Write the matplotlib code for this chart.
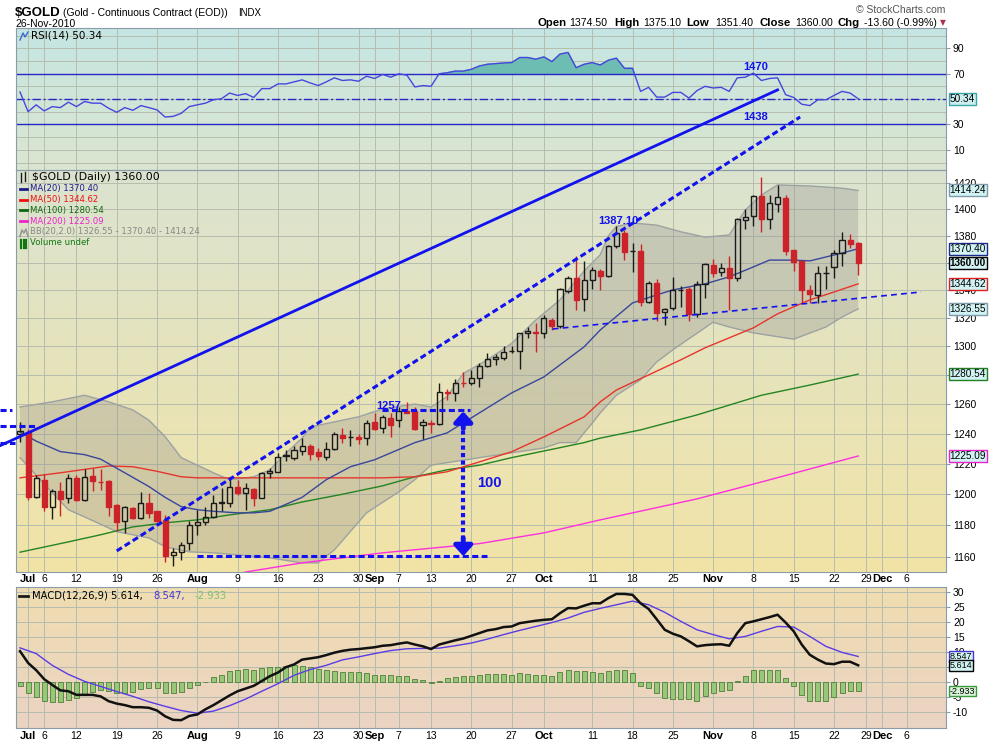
import numpy as np
import matplotlib.pyplot as plt
import matplotlib.colors as mcolors
from matplotlib.patches import Rectangle, Polygon
from matplotlib.lines import Line2D
from matplotlib.ticker import FixedLocator, NullLocator

plt.rcParams['font.family'] = ['Liberation Sans', 'DejaVu Sans']

# ---------------------------------------------------------------- data
# trading-day index: 0 = 30-Jun-2010 ... 104 = 26-Nov-2010
opens = [1239.7, 1241.4, 1198.2, 1209.4, 1192.0, 1202.3, 1197.5, 1210.8, 1196.4, 1211.6,
         1208.3, 1208.8, 1193.2, 1183.0, 1191.0, 1184.6, 1194.2, 1188.9, 1183.5, 1161.1,
         1163.0, 1168.5, 1180.0, 1182.3, 1185.3, 1194.3, 1194.4, 1204.7, 1200.8, 1203.3,
         1197.9, 1213.6, 1214.5, 1225.3, 1223.6, 1228.7, 1231.4, 1227.6, 1224.7, 1229.7,
         1239.1, 1237.7, 1238.0, 1236.9, 1247.5, 1244.0, 1250.4, 1248.9, 1255.5, 1255.5,
         1245.5, 1246.9, 1246.5, 1268.1, 1267.8, 1274.6, 1274.1, 1277.8, 1286.5, 1290.9,
         1291.7, 1296.6, 1296.5, 1309.2, 1309.8, 1309.5, 1318.6, 1314.4, 1339.7, 1348.7,
         1333.7, 1347.5, 1354.3, 1350.4, 1372.3, 1382.1, 1368.7, 1368.8, 1331.8, 1345.5,
         1324.4, 1327.3, 1340.1, 1340.6, 1323.2, 1344.2, 1358.6, 1353.2, 1356.3, 1348.7,
         1392.0, 1394.8, 1409.7, 1392.9, 1403.9, 1408.3, 1369.3, 1361.0, 1340.4, 1336.2,
         1352.5, 1357.2, 1367.0, 1376.9, 1374.5]
highs = [1247.8, 1243.0, 1212.4, 1213.3, 1203.3, 1207.7, 1213.0, 1212.4, 1216.6, 1217.0,
         1216.6, 1209.5, 1193.5, 1192.6, 1191.7, 1201.5, 1201.0, 1189.5, 1186.8, 1165.6,
         1169.6, 1183.0, 1190.0, 1191.7, 1199.7, 1204.0, 1210.2, 1209.4, 1207.5, 1204.0,
         1214.3, 1217.0, 1227.3, 1229.0, 1231.4, 1236.8, 1233.0, 1230.3, 1234.7, 1241.4,
         1243.6, 1242.5, 1240.0, 1249.3, 1253.8, 1252.6, 1253.8, 1257.8, 1261.7, 1258.3,
         1250.0, 1249.3, 1274.5, 1270.2, 1277.0, 1282.0, 1283.5, 1288.2, 1295.5, 1294.7,
         1299.9, 1299.9, 1309.5, 1313.6, 1316.5, 1322.0, 1320.0, 1341.4, 1350.4, 1365.0,
         1361.6, 1357.2, 1355.5, 1373.0, 1387.1, 1384.4, 1374.4, 1373.9, 1346.5, 1348.5,
         1327.3, 1349.5, 1343.1, 1342.4, 1346.6, 1360.0, 1362.6, 1360.0, 1365.0, 1393.5,
         1399.9, 1410.8, 1424.4, 1410.8, 1418.5, 1410.8, 1369.5, 1361.4, 1343.8, 1357.5,
         1357.5, 1369.3, 1383.2, 1381.4, 1375.1]
lows = [1234.5, 1196.0, 1197.5, 1189.0, 1184.2, 1186.1, 1194.5, 1195.7, 1195.7, 1202.2,
        1202.9, 1185.7, 1176.1, 1175.1, 1183.9, 1183.9, 1185.0, 1182.3, 1156.6, 1154.5,
        1157.8, 1164.5, 1174.0, 1180.0, 1184.6, 1189.0, 1192.0, 1199.3, 1190.0, 1192.2,
        1197.5, 1210.5, 1214.3, 1222.0, 1222.5, 1225.8, 1222.5, 1222.5, 1222.5, 1229.2,
        1233.6, 1231.4, 1233.0, 1232.5, 1242.5, 1240.3, 1237.6, 1244.7, 1253.8, 1242.5,
        1236.2, 1240.7, 1246.0, 1262.8, 1262.0, 1272.0, 1273.0, 1271.6, 1285.7, 1287.1,
        1290.4, 1295.5, 1283.9, 1306.0, 1296.3, 1306.0, 1311.8, 1312.9, 1337.9, 1325.8,
        1325.3, 1340.7, 1340.2, 1349.5, 1371.0, 1362.1, 1352.9, 1328.6, 1331.0, 1317.8,
        1314.8, 1325.5, 1328.2, 1317.8, 1320.7, 1334.6, 1349.4, 1350.0, 1325.8, 1347.0,
        1385.0, 1387.0, 1383.0, 1384.8, 1398.0, 1366.0, 1354.3, 1331.0, 1331.0, 1331.0,
        1341.0, 1349.0, 1357.9, 1370.8, 1351.4]
closes = [1242.0, 1198.2, 1210.8, 1192.0, 1201.8, 1197.0, 1210.8, 1196.4, 1211.2, 1208.6,
          1208.0, 1192.0, 1182.0, 1191.7, 1184.6, 1194.2, 1188.2, 1182.9, 1160.3, 1163.0,
          1167.8, 1180.4, 1182.3, 1185.3, 1194.5, 1194.7, 1204.7, 1200.8, 1204.0, 1197.5,
          1213.6, 1215.3, 1224.7, 1225.8, 1229.2, 1231.4, 1226.5, 1225.1, 1229.7, 1239.6,
          1236.9, 1238.0, 1236.2, 1247.0, 1243.0, 1251.1, 1245.9, 1255.5, 1254.2, 1243.0,
          1247.6, 1246.6, 1268.0, 1267.8, 1274.5, 1274.3, 1278.1, 1286.5, 1290.9, 1292.3,
          1296.3, 1296.8, 1309.2, 1310.6, 1309.5, 1320.3, 1314.4, 1340.7, 1348.7, 1333.0,
          1347.5, 1354.8, 1350.4, 1372.5, 1382.1, 1368.3, 1369.0, 1331.8, 1345.5, 1323.4,
          1326.3, 1340.1, 1340.4, 1322.7, 1344.5, 1359.3, 1352.5, 1356.0, 1348.7, 1392.4,
          1394.0, 1409.7, 1392.7, 1404.4, 1409.2, 1368.6, 1360.9, 1340.1, 1337.6, 1352.6,
          1352.8, 1367.5, 1376.9, 1373.6, 1360.0]

tick_pos = [1, 3, 7, 12, 17, 22, 27, 32, 37, 42, 44, 47, 51, 56, 61, 65, 71, 76, 81,
            86, 91, 96, 101, 105, 107, 110]
tick_lab = ['Jul', '6', '12', '19', '26', 'Aug', '9', '16', '23', '30', 'Sep', '7', '13',
            '20', '27', 'Oct', '11', '18', '25', 'Nov', '8', '15', '22', '29', 'Dec', '6']
months = {'Jul', 'Aug', 'Sep', 'Oct', 'Nov', 'Dec'}

ma20_x = [0, 2, 5, 8, 10, 12, 14, 16, 18, 20, 22, 24, 27, 29, 31, 33, 35, 38, 41, 44, 49,
          53, 57, 61, 65, 70, 72, 76, 79, 81, 83, 85, 88, 91, 93, 96, 98, 100, 102, 104]
ma20 = [1241, 1235, 1228, 1226, 1223, 1217, 1211, 1205, 1198, 1192, 1190, 1189, 1188, 1188,
        1189, 1193.5, 1198, 1209.5, 1218, 1222.6, 1234, 1240.5, 1254, 1267.6, 1278.6,
        1299.6, 1311.5, 1330.8, 1336.6, 1340.2, 1342.4, 1344.6, 1349.7, 1357, 1362, 1362,
        1361.4, 1364.3, 1367.2, 1370.40]
ma50_x = [0, 5, 11, 14, 17, 20, 22, 28, 35, 45, 49, 53, 57, 61, 65, 70, 72, 74, 78, 82,
          85, 91, 94, 98, 101, 104]
ma50 = [1210.7, 1214, 1218.5, 1218, 1215, 1211.4, 1210.7, 1210.7, 1210.7, 1210.7, 1211.4,
        1214.7, 1221.2, 1227.9, 1237.8, 1251.3, 1261.5, 1269.6, 1280, 1290.5, 1298.9, 1313,
        1323, 1333, 1338.7, 1344.62]
ma100_x = [0, 6, 10, 14, 18, 22, 26, 31, 35, 40, 45, 49, 53, 57, 61, 65, 70, 72, 77, 84,
           92, 98, 104]
ma100 = [1163, 1169.5, 1174, 1179, 1181.6, 1183.5, 1186.7, 1190, 1195, 1200, 1205.5, 1211.4,
         1216, 1219, 1224, 1228.4, 1234, 1237, 1242.5, 1252.6, 1266, 1273, 1280.54]
ma200_x = [25, 28, 35, 45, 57, 65, 72, 84, 92, 104]
ma200 = [1146, 1150.6, 1156.3, 1162.6, 1168.4, 1175.2, 1183.5, 1197, 1208, 1225.09]
bbu_x = [0, 4, 8, 11, 14, 16, 18, 20, 22, 24, 26, 29, 31, 33, 35, 36, 42, 45, 49, 51, 53,
         55, 58, 61, 64, 67, 70, 71, 72, 73, 74, 76, 79, 82, 85, 88, 90, 92, 94, 98, 102, 104]
bbu = [1258, 1261.5, 1266, 1261.5, 1256, 1249, 1238, 1224, 1219, 1214, 1209.5, 1211.4, 1216,
       1227, 1237, 1244.5, 1251.3, 1256.7, 1260, 1258, 1265, 1281, 1290.5, 1302, 1318.6,
       1333, 1354, 1360, 1366, 1380, 1387, 1389.6, 1388, 1383, 1379, 1380.6, 1399.4,
       1410.8, 1418.5, 1417.7, 1416, 1414.24]
bbl_x = [0, 4, 6, 8, 12, 16, 18, 21, 24, 31, 35, 37, 39, 43, 47, 49, 51, 57, 65, 67, 69,
         71, 72, 74, 77, 79, 81, 86, 88, 91, 96, 100, 102, 104]
bbl = [1224, 1201, 1190, 1185.4, 1176, 1172, 1166.4, 1163.2, 1162.6, 1159.4, 1156.3,
       1156.3, 1164.4, 1188, 1201.6, 1209.5, 1219, 1224, 1230.4, 1234, 1234, 1247, 1254,
       1266, 1276.6, 1289, 1297.5, 1317, 1313.6, 1309.4, 1305, 1313.6, 1320.7, 1326.55]

rsi = [55.6, 40.1, 45.5, 40.7, 44.1, 43.3, 47.6, 44.1, 48.1, 46.8,
       46.8, 42.8, 39.6, 43.3, 41.2, 44.9, 43.3, 41.5, 35.9, 36.4,
       38.8, 44.1, 45.5, 46.8, 49.5, 50.3, 54.8, 52.9, 54.3, 51.3,
       58.3, 58.3, 62.0, 62.0, 63.6, 65.2, 62.8, 60.7, 63.6, 66.8,
       64.7, 65.2, 64.1, 68.1, 66.3, 69.5, 67.3, 70.0, 68.9, 59.6,
       60.7, 60.1, 70.0, 70.8, 72.1, 72.1, 73.5, 76.1, 77.5, 78.0,
       78.5, 78.8, 82.8, 82.8, 81.5, 83.3, 79.6, 85.5, 86.8, 74.8,
       77.5, 78.8, 76.9, 80.7, 82.3, 74.3, 74.3, 56.1, 59.3, 51.6,
       51.6, 55.3, 55.3, 50.8, 56.7, 60.1, 58.8, 59.3, 56.1, 66.8,
       67.3, 70.5, 64.7, 66.3, 66.8, 53.5, 51.3, 46.0, 44.9, 49.5,
       49.5, 52.9, 56.1, 54.8, 50.34]

macd = [10.3, 6.4, 4.0, 1.0, -0.9, -2.7, -3.0, -4.2, -4.2, -4.2,
        -4.7, -6.3, -7.1, -7.6, -8.3, -8.3, -8.5, -9.4, -11.3, -12.5,
        -12.6, -11.2, -10.7, -9.0, -7.6, -6.0, -4.4, -3.0, -2.1, -1.2,
        0.4, 2.0, 3.2, 5.0, 5.9, 7.5, 7.9, 8.3, 9.0, 9.8,
        10.4, 10.8, 11.0, 11.3, 11.6, 12.1, 12.3, 12.8, 13.2, 12.5,
        11.9, 11.0, 12.5, 13.2, 13.9, 14.5, 15.4, 16.3, 17.2, 17.6,
        18.3, 18.5, 19.6, 20.0, 20.4, 20.7, 20.9, 22.9, 24.6, 24.5,
        25.4, 26.2, 26.2, 27.9, 29.3, 29.3, 29.0, 26.2, 24.3, 20.9,
        17.4, 16.1, 15.2, 13.6, 11.9, 12.3, 12.5, 12.6, 12.1, 16.3,
        19.6, 20.2, 20.9, 21.6, 22.4, 19.8, 16.9, 12.5, 9.1, 7.5,
        6.2, 6.0, 6.8, 6.8, 5.614]
sig_x = list(range(0, 105, 2))
signal = [11.4, 9.5, 5.6, 2.6, 0.3, -1.4, -3.1, -4.7, -6.5, -8.0, -9.4, -10.3, -9.6,
          -7.8, -5.6, -3.0, -0.5, 2.3, 4.2, 5.6, 7.4, 8.4, 9.5, 10.5, 11.1, 11.2, 11.3,
          12.1, 13.0, 14.3, 15.8, 17.2, 18.5, 19.8, 21.3, 23.2, 24.5, 25.7, 26.9, 25.7,
          23.2, 20.2, 17.4, 15.8, 14.4, 15.2, 16.9, 18.5, 18.3, 15.2, 11.9, 9.9, 8.547]
hist = [-1.1, -3.6, -5.0, -6.2, -6.6, -6.7, -5.8, -5.3, -3.9, -3.1,
        -2.5, -2.9, -3.6, -3.6, -3.1, -2.3, -2.0, -2.0, -3.6, -3.6,
        -3.3, -2.0, -0.9, 0.2, 1.7, 2.3, 3.6, 4.1, 4.3, 4.1,
        4.6, 5.0, 5.2, 5.4, 5.7, 5.4, 5.0, 4.3, 3.9, 3.8,
        3.5, 3.5, 3.3, 2.9, 2.5, 2.5, 2.3, 2.2, 2.0, 1.2,
        0.6, -0.2, 0.5, 1.3, 1.7, 2.0, 2.2, 2.5, 2.7, 2.7,
        2.7, 2.5, 3.1, 2.7, 2.5, 2.5, 2.2, 3.3, 4.0, 3.6,
        3.6, 3.4, 2.9, 3.6, 4.2, 4.0, 3.1, -1.2, -1.9, -3.6,
        -5.3, -5.5, -5.6, -5.6, -6.4, -4.7, -3.6, -2.8, -2.5, 0.3,
        2.0, 4.2, 4.2, 4.2, 4.2, 1.3, -1.4, -4.2, -6.4, -6.4,
        -6.4, -4.9, -3.6, -2.8, -2.933]

# hand-drawn annotations, (day index, price)
trend_solid = ([-2.5, 94.0], [1231.9, 1493.3])
trend_dash = ([12.0, 96.8], [1163.8, 1471.6])
support = ([66.1, 111.8], [1312.2, 1338.7])
stubs = [([-2.5, -1.0], 1256.0), ([-2.5, 1.9], 1245.3), ([-2.5, -0.6], 1233.6)]
lvl_1257 = ([44.9, 55.8], 1256.0)
lvl_base = ([22.0, 58.0], 1160.3)
arrow_x, arrow_top, arrow_bot = 55.0, 1255.0, 1160.5

# ---------------------------------------------------------------- style
BLUE = '#1212ee'
RED = '#cc2229'
BLACK = '#1a1a1a'
GRID = '#b6bdae'
SPINE = '#8a9caa'
W, H = 990.0, 744.0
LEFT, RIGHT = 16, 946
XLIM = (-0.5, 114.9)

fig = plt.figure(figsize=(9.9, 7.44), dpi=100)


def rect(top, bot):
    return [LEFT / W, 1 - bot / H, (RIGHT - LEFT) / W, (bot - top) / H]


def panel(top, bot, c_top, c_bot):
    bg = fig.add_axes(rect(top, bot), zorder=0)
    c0 = np.array(mcolors.to_rgb(c_top))
    c1 = np.array(mcolors.to_rgb(c_bot))
    t = np.linspace(0, 1, 200)[:, None, None]
    bg.imshow(c0 + (c1 - c0) * t, aspect='auto', extent=[0, 1, 0, 1])
    bg.set_axis_off()
    ax = fig.add_axes(rect(top, bot), zorder=1)
    ax.patch.set_alpha(0)
    for s in ax.spines.values():
        s.set_color(SPINE)
    ax.set_xlim(XLIM)
    ax.set_xticks(tick_pos)
    ax.grid(True, axis='x', color=GRID, lw=0.7)
    ax.set_axisbelow(True)
    ax.yaxis.tick_right()
    ax.tick_params(axis='y', length=3, width=0.8, color=SPINE, pad=2, labelsize=7.5)
    ax.tick_params(axis='x', length=0, labelsize=7.5)
    return ax


def xlabels(ax, pad):
    ax.set_xticklabels(tick_lab)
    ax.tick_params(axis='x', pad=pad)
    for t in ax.get_xticklabels():
        if t.get_text() in months:
            t.set_fontweight('bold')
            t.set_fontsize(8)


def tag(ax, y, txt, edge, face='#d2f3f3', bold=False, size=7.2):
    ax.text(1.004, y, txt, transform=ax.get_yaxis_transform(), ha='left', va='center',
            fontsize=size, fontweight='bold' if bold else 'normal', clip_on=False, zorder=10,
            bbox=dict(boxstyle='square,pad=0.1', fc=face, ec=edge, lw=1))


def ftxt(x, y, s, **kw):
    fig.text(x / W, 1 - y / H, s, va='center', **kw)


def fline(xs, ys, **kw):
    fig.add_artist(Line2D([v / W for v in xs], [1 - v / H for v in ys],
                          transform=fig.transFigure, **kw))


x = np.arange(len(closes))

# ---------------------------------------------------------------- RSI panel
axr = panel(28, 170, '#c5e5e3', '#dbe6cf')
axr.set_ylim(-5.9, 106.1)
axr.set_yticks([10, 30, 70, 90])
axr.tick_params(axis='x', labelbottom=False)
for v in range(0, 101, 10):
    axr.axhline(v, color=GRID, lw=0.7, zorder=0.5)
r = np.array(rsi)
axr.fill_between(x, r, 70, where=r >= 70, interpolate=True, color='#6dbdb3', zorder=1)
axr.axhline(70, color='#2626c8', lw=1, zorder=2)
axr.axhline(30, color='#2626c8', lw=1, zorder=2)
axr.axhline(50, color='#2626c8', lw=1, ls=(0, (6, 2, 1.5, 2)), zorder=2)
axr.plot(x, r, color='#4646dc', lw=1, zorder=3)
tag(axr, rsi[-1], f'{rsi[-1]:.2f}', '#3aa6a6', face='#cdeeee')
axr.text(91.3, 75.3, '1470', color=BLUE, fontsize=8, fontweight='bold', ha='center', va='center')
axr.text(91.3, 35.8, '1438', color=BLUE, fontsize=8, fontweight='bold', ha='center', va='center')

# ---------------------------------------------------------------- price panel
axp = panel(170, 572, '#dbe3d0', '#f2e4a6')
axp.set_yscale('log')
axp.set_xlim(XLIM)
axp.set_ylim(1150.6, 1430)
pt = list(range(1160, 1421, 20))
hidden = {1360, 1280}          # labels fully covered by value tags
axp.yaxis.set_major_locator(FixedLocator(pt))
axp.yaxis.set_minor_locator(NullLocator())
axp.set_yticklabels(['' if v in hidden else str(v) for v in pt])
axp.grid(True, axis='y', color=GRID, lw=0.7)
xlabels(axp, 1.5)

band = list(zip(bbu_x, bbu)) + list(zip(bbl_x[::-1], bbl[::-1]))
axp.add_patch(Polygon(band, closed=True, facecolor='#8c8c8c', alpha=0.3, lw=0, zorder=1))
axp.plot(bbu_x, bbu, color='#9ca2a2', lw=1, zorder=1.5)
axp.plot(bbl_x, bbl, color='#9ca2a2', lw=1, zorder=1.5)
axp.plot(ma200_x, ma200, color='#ff2ee0', lw=1, zorder=2)
axp.plot(ma100_x, ma100, color='#248424', lw=1, zorder=2)
axp.plot(ma50_x, ma50, color='#e6352c', lw=1, zorder=2)
axp.plot(ma20_x, ma20, color='#38479c', lw=1, zorder=2)

for i in x:
    o, h, l, c = opens[i], highs[i], lows[i], closes[i]
    prev = closes[i - 1] if i else c
    col = RED if c < prev else BLACK
    lo_b, hi_b = min(o, c), max(o, c)
    axp.vlines(i, l, lo_b, color=col, lw=1, zorder=3)
    axp.vlines(i, hi_b, h, color=col, lw=1, zorder=3)
    axp.add_patch(Rectangle((i - 0.32, lo_b), 0.64, max(hi_b - lo_b, 0.3),
                            facecolor=col if c < o else 'none', edgecolor=col, lw=1, zorder=4))

# annotations drawn on the chart
axp.plot(*trend_solid, color=BLUE, lw=2, clip_on=False, zorder=6)
axp.plot(*trend_dash, color=BLUE, lw=2.2, ls=(0, (2, 1.1)), clip_on=False, zorder=6)
axp.plot(*support, color=BLUE, lw=1.2, ls=(0, (3.5, 2.5)), clip_on=False, zorder=6)
for xs, yv in stubs:
    axp.plot(xs, [yv, yv], color=BLUE, lw=2.2, ls=(0, (2, 1.1)), clip_on=False, zorder=6)
for xs, yv in (lvl_1257, lvl_base):
    axp.plot(xs, [yv, yv], color=BLUE, lw=2.2, ls=(0, (2, 1.1)), zorder=6)
axp.plot([arrow_x, arrow_x], [1247, 1169], color=BLUE, lw=3, ls=(0, (1, 0.8)), zorder=6)
arrow = dict(arrowstyle='-|>,head_length=0.55,head_width=0.5', color=BLUE, lw=3.5,
             mutation_scale=11, shrinkA=0, shrinkB=0)
axp.annotate('', xy=(arrow_x, arrow_top), xytext=(arrow_x, 1243.5), arrowprops=arrow, zorder=6)
axp.annotate('', xy=(arrow_x, arrow_bot), xytext=(arrow_x, 1172), arrowprops=arrow, zorder=6)
axp.text(45.7, 1258.5, '1257', color=BLUE, fontsize=8, fontweight='bold', ha='center',
         va='center', zorder=7)
axp.text(58.3, 1207.5, '100', color=BLUE, fontsize=10.5, fontweight='bold', ha='center',
         va='center', zorder=7)
axp.text(74.3, 1391, '1387.10', color=BLUE, fontsize=8, fontweight='bold', ha='center',
         va='center', zorder=7)

tag(axp, bbu[-1], f'{bbu[-1]:.2f}', '#7f9aa8')
tag(axp, ma20[-1], f'{ma20[-1]:.2f}', '#1c2a8c')
tag(axp, closes[-1], f'{closes[-1]:.2f}', '#000000', bold=True)
tag(axp, ma50[-1], f'{ma50[-1]:.2f}', '#e02020')
tag(axp, bbl[-1], f'{bbl[-1]:.2f}', '#7f9aa8')
tag(axp, ma100[-1], f'{ma100[-1]:.2f}', '#208020')
tag(axp, ma200[-1], f'{ma200[-1]:.2f}', '#ee22cc')

# ---------------------------------------------------------------- MACD panel
axm = panel(587, 728, '#f0ddb0', '#ebd3c3')
axm.set_ylim(-15.2, 31.6)
mt = list(range(-10, 31, 5))
axm.set_yticks(mt)
axm.set_yticklabels(['' if v == 5 else str(v) for v in mt])
axm.grid(True, axis='y', color=GRID, lw=0.7)
xlabels(axm, 2.5)
axm.bar(x, hist, width=0.62, color='#97c878', edgecolor='#4f7f3c', lw=0.6, zorder=2)
axm.plot(sig_x, signal, color='#5a3ce6', lw=1, zorder=3)
axm.plot(x, macd, color='#111111', lw=1.8, zorder=4)
tag(axm, signal[-1], f'{signal[-1]:.3f}', '#4a34d8', size=6.5)
tag(axm, macd[-1], f'{macd[-1]:.3f}', '#000000', size=6.5)
tag(axm, hist[-1], f'{hist[-1]:.3f}', '#3c9a3c', face='#d8f4d8', size=6.5)

# ---------------------------------------------------------------- header and legends
ftxt(15, 13, '$GOLD', fontsize=9.5, fontweight='bold')
ftxt(63, 13, '(Gold - Continuous Contract (EOD))', fontsize=7.5)
ftxt(238, 13, 'INDX', fontsize=7)
ftxt(15, 24, '26-Nov-2010', fontsize=7.5)
ftxt(945, 10, '\u00a9 StockCharts.com', ha='right', fontsize=7.5, color='#555555')
chg = closes[-1] - closes[-2]
pieces = [(538, 'Open', True), (569, f'{opens[-1]:.2f}', False),
          (614, 'High', True), (643, f'{highs[-1]:.2f}', False),
          (686, 'Low', True), (715, f'{lows[-1]:.2f}', False),
          (759, 'Close', True), (795, f'{closes[-1]:.2f}', False),
          (838, 'Chg', True), (864, f'{chg:.2f} ({chg / closes[-2] * 100:.2f}%)', False)]
for px, s, b in pieces:
    ftxt(px, 23, s, fontsize=8.2 if b else 7.6, fontweight='bold' if b else 'normal')
ftxt(943, 23, '\u25bc', fontsize=5.5, color='#b03050', ha='center', family=['DejaVu Sans'])

DV = ['DejaVu Sans']
fline([20, 23, 25, 28], [40, 33, 37, 32], color='#3a6ad0', lw=1)
ftxt(31, 36, f'RSI(14) {rsi[-1]:.2f}', fontsize=7.5, family=DV)

fline([21, 21], [173, 182], color=BLACK, lw=1)
fline([25, 25], [172, 181], color=BLACK, lw=1)
ftxt(32, 177.5, f'$GOLD (Daily) {closes[-1]:.2f}', fontsize=7.9, family=DV)
legend = [(f'MA(20) {ma20[-1]:.2f}', '#1c1c8c', '#1c1c8c'),
          (f'MA(50) {ma50[-1]:.2f}', '#ee1111', '#ee1111'),
          (f'MA(100) {ma100[-1]:.2f}', '#116611', '#116611'),
          (f'MA(200) {ma200[-1]:.2f}', '#ee22cc', '#ee22cc'),
          (f'BB(20,2.0) {bbl[-1]:.2f} - {ma20[-1]:.2f} - {bbu[-1]:.2f}', '#888888', None),
          ('Volume undef', '#117711', None)]
for k, (s, tc, lc) in enumerate(legend):
    yy = 189 + k * 10.7
    if lc:
        fline([20, 27], [yy, yy], color=lc, lw=2)
    ftxt(29.7, yy, s, fontsize=6.1, color=tc, family=DV)
fline([20, 22, 24, 26, 28], [236.5, 230, 233, 229, 236.5], color='#999999', lw=1.2)
for bx in (21, 23.5, 26):
    fline([bx, bx], [247.5, 240], color='#117711', lw=1.6)

fig.text(32 / W, 1 - 596 / H, f'MACD(12,26,9) {macd[-1]:.3f},', fontsize=7.2,
         va='center', family=DV)
fig.text(153 / W, 1 - 596 / H, f'{signal[-1]:.3f},', fontsize=7.2, va='center',
         color='#4a34d8', family=DV)
fig.text(195 / W, 1 - 596 / H, f'{hist[-1]:.3f}', fontsize=7.2, va='center',
         color='#7cc070', family=DV)
fline([19, 28], [596, 596], color=BLACK, lw=2)

fig.savefig('out.png', dpi=100)
